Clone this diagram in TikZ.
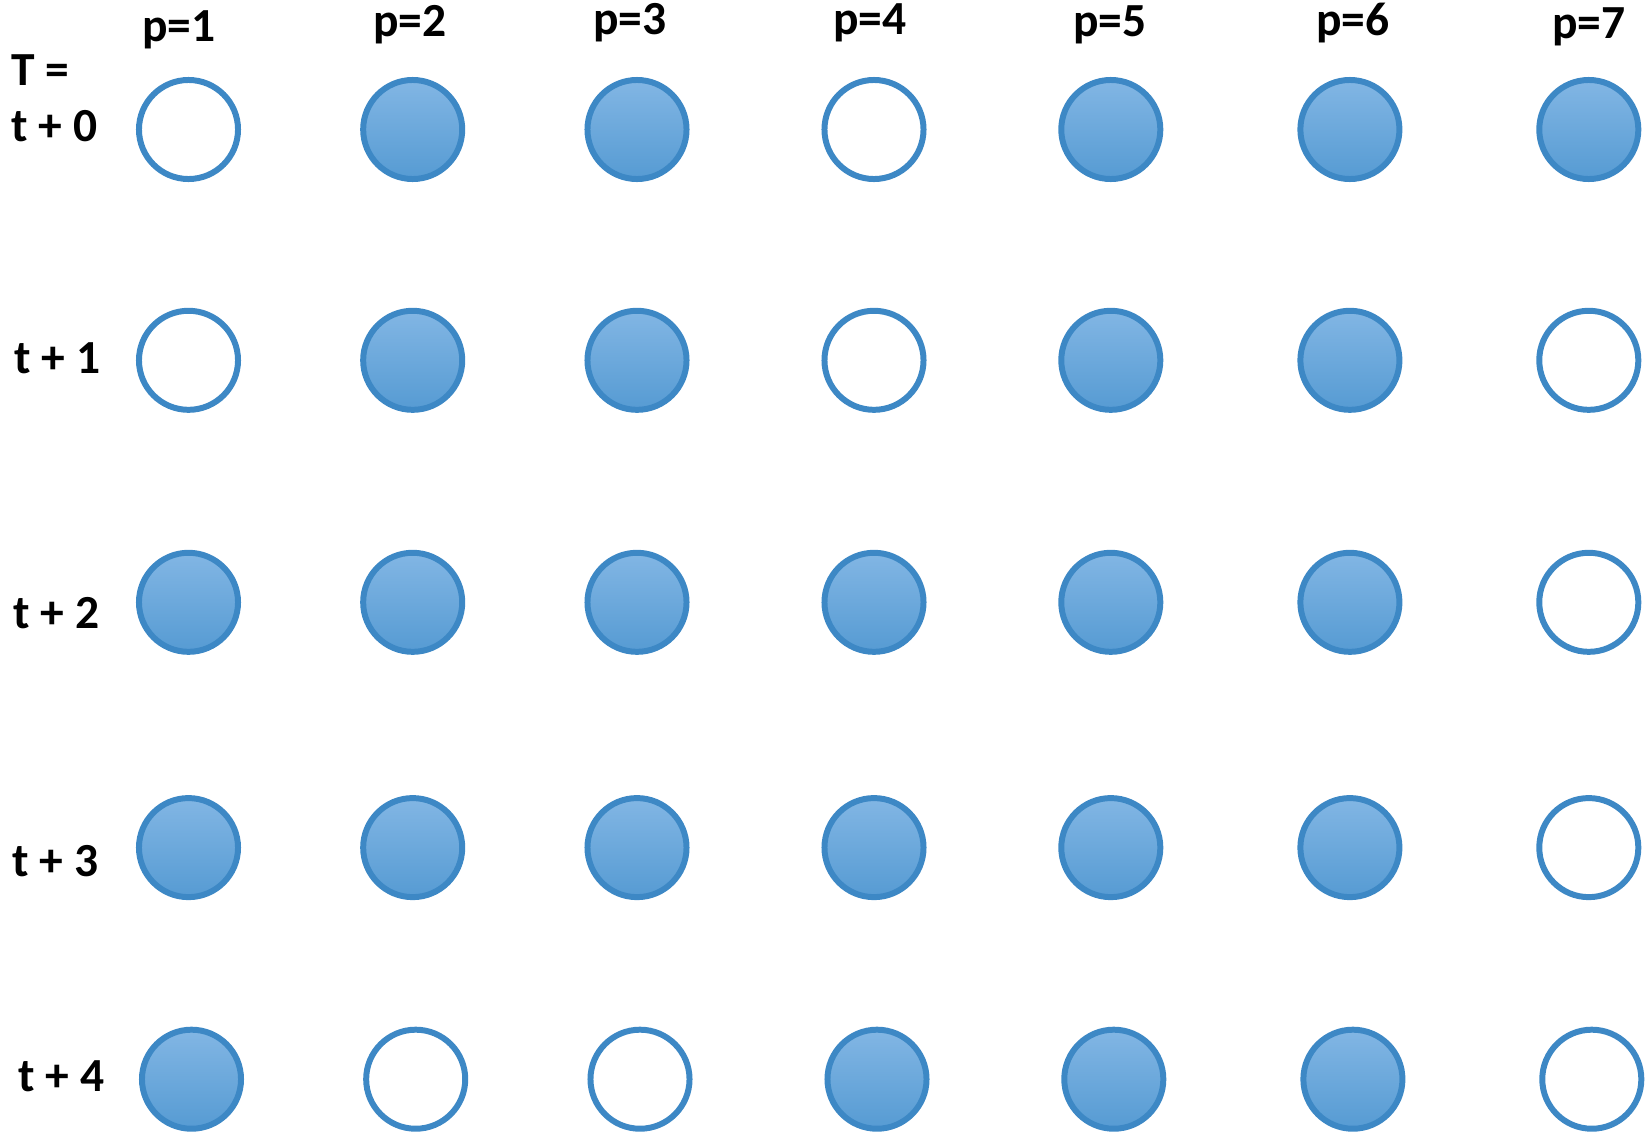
\documentclass[tikz,border=0pt]{standalone}
\usepackage{fontspec}
\setmainfont{Carlito}
\definecolor{ringblue}{RGB}{61, 136, 197}
\definecolor{topblue}{RGB}{130, 182, 228}
\definecolor{botblue}{RGB}{86, 155, 211}
\usetikzlibrary{positioning}

\begin{document}
\begin{tikzpicture}[
    x=0.01cm, y=-0.01cm,
    slot/.style={circle, draw=ringblue, line width=1.7pt, minimum size=0.99cm, inner sep=0pt},
    busy/.style={slot, top color=topblue, bottom color=botblue},
    idle/.style={slot, fill=white},
    lab/.style={font=\bfseries\fontsize{13.5}{16}\selectfont, inner sep=0pt}
]
    \useasboundingbox (0,0) rectangle (1651,1139);

    % Columns and rows
    \foreach \p/\x in {1/188.5, 2/412.7, 3/637, 4/874, 5/1110.8, 6/1349.9, 7/1588.8}
        \coordinate (c\p) at (\x,0);
    \foreach \r/\y in {0/129.5, 1/360.3, 2/602.3, 3/847.6, 4/1079.2}
        \coordinate (r\r) at (0,\y);

    % Headers
    \foreach \p/\x/\y in {1/179/30, 2/409.6/25, 3/629.6/23, 4/869.7/23, 5/1109.8/25, 6/1353/23, 7/1588.8/27}
        \node[lab] (p\p) at (\x,\y) {p=\p};
    \node[lab, anchor=west] (tEq) at (11,70) {T =};
    \node[lab, anchor=west] (t0) at (11,126) {t + 0};
    \node[lab, anchor=west] (t1) at (14,358) {t + 1};
    \node[lab, anchor=west] (t2) at (13,613) {t + 2};
    \node[lab, anchor=west] (t3) at (12,861) {t + 3};
    \node[lab, anchor=west] (t4) at (18,1076) {t + 4};

    % Slots
    \foreach \p/\s in {1/idle, 2/busy, 3/busy, 4/idle, 5/busy, 6/busy, 7/busy}
        \node[\s] (s0\p) at (c\p |- r0) {};
    \foreach \p/\s in {1/idle, 2/busy, 3/busy, 4/idle, 5/busy, 6/busy, 7/idle}
        \node[\s] (s1\p) at (c\p |- r1) {};
    \foreach \p/\s in {1/busy, 2/busy, 3/busy, 4/busy, 5/busy, 6/busy, 7/idle}
        \node[\s] (s2\p) at (c\p |- r2) {};
    \foreach \p/\s in {1/busy, 2/busy, 3/busy, 4/busy, 5/busy, 6/busy, 7/idle}
        \node[\s] (s3\p) at (c\p |- r3) {};
    \foreach \p/\s in {1/busy, 2/idle, 3/idle, 4/busy, 5/busy, 6/busy, 7/idle}
        \node[\s, xshift=0.03cm] (s4\p) at (c\p |- r4) {};
\end{tikzpicture}
\end{document}
